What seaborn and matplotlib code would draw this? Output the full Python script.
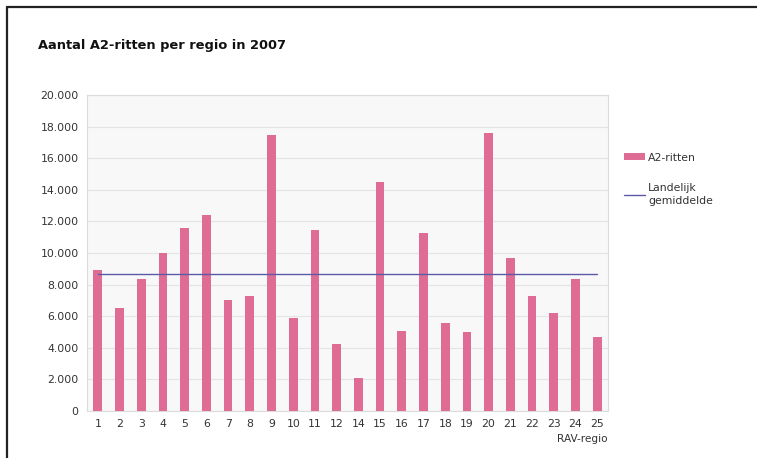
import matplotlib
matplotlib.use("Agg")
import matplotlib.pyplot as plt
from matplotlib.lines import Line2D
from matplotlib.patches import Patch
from matplotlib.ticker import FuncFormatter, MultipleLocator
import seaborn as sns
import pandas as pd

# Ambulance A2 trips per RAV region, 2007
regions = ["1", "2", "3", "4", "5", "6", "7", "8", "9", "10", "11", "12",
           "14", "15", "16", "17", "18", "19", "20", "21", "22", "23", "24", "25"]
a2_rides = [8900, 6500, 8330, 10020, 11600, 12380, 7000, 7280, 17470, 5890, 11430, 4220,
            2070, 14510, 5060, 11250, 5590, 4980, 17570, 9660, 7260, 6200, 8350, 4680]
national_average = 8700

title = "Aantal A2-ritten per regio in 2007"
bar_label = "A2-ritten"
line_label = "Landelijk\ngemiddelde"
x_label = "RAV-regio"

bar_color = "#df6c95"
line_color = "#5a5aa8"
text_color = "#333333"

df = pd.DataFrame({"regio": regions, "ritten": a2_rides})

sns.set_theme(style="white")
plt.rcParams["font.family"] = ["DejaVu Sans"]

fig = plt.figure(figsize=(7.57, 4.58), dpi=100)
ax = fig.add_axes([0.1149, 0.1026, 0.6883, 0.69])
ax.set_facecolor("#f8f8f8")

sns.barplot(data=df, x="regio", y="ritten", order=regions, color=bar_color,
            saturation=1, width=0.4, linewidth=0, ax=ax, zorder=3)
ax.plot([0, len(regions) - 1], [national_average, national_average],
        color=line_color, lw=1.0, zorder=4)

ax.set_xlim(-0.5, len(regions) - 0.5)
ax.set_ylim(0, 20000)
ax.yaxis.set_major_locator(MultipleLocator(2000))
ax.yaxis.set_major_formatter(FuncFormatter(lambda v, p: f"{int(v):,}".replace(",", ".")))
ax.grid(axis="y", color="#e4e4e4", lw=0.8, zorder=0)
ax.set_axisbelow(True)
for s in ax.spines.values():
    s.set_color("#dcdcdc")
    s.set_linewidth(0.8)

ax.tick_params(axis="both", length=0, labelsize=7.8, labelcolor=text_color, pad=6)
ax.set_xlabel("")
ax.set_ylabel("")
ax.text(1.0, -0.072, x_label, transform=ax.transAxes, ha="right", va="top",
        fontsize=7.6, color=text_color)

fig.text(0.050, 0.900, title, fontsize=9.4, fontweight="bold", color="#111111",
         ha="left", va="center")

handles = [Patch(facecolor=bar_color, edgecolor="none"),
           Line2D([0], [0], color=line_color, lw=1.0)]
leg = fig.legend(handles, [bar_label, line_label], loc="upper left",
                 bbox_to_anchor=(0.811, 0.688), frameon=False, fontsize=7.8,
                 labelcolor=text_color, handlelength=2.0, handleheight=0.6,
                 handletextpad=0.25, labelspacing=1.9)
for t in leg.get_texts():
    t.set_linespacing(1.35)

# frame lines along top and left edges
fig.add_artist(Line2D([0.0093, 1.0], [0.984, 0.984], transform=fig.transFigure,
                      color="#222222", lw=1.6))
fig.add_artist(Line2D([0.0093, 0.0093], [0.0, 0.984], transform=fig.transFigure,
                      color="#222222", lw=1.6))

fig.savefig("out.png", dpi=100, facecolor="white")
